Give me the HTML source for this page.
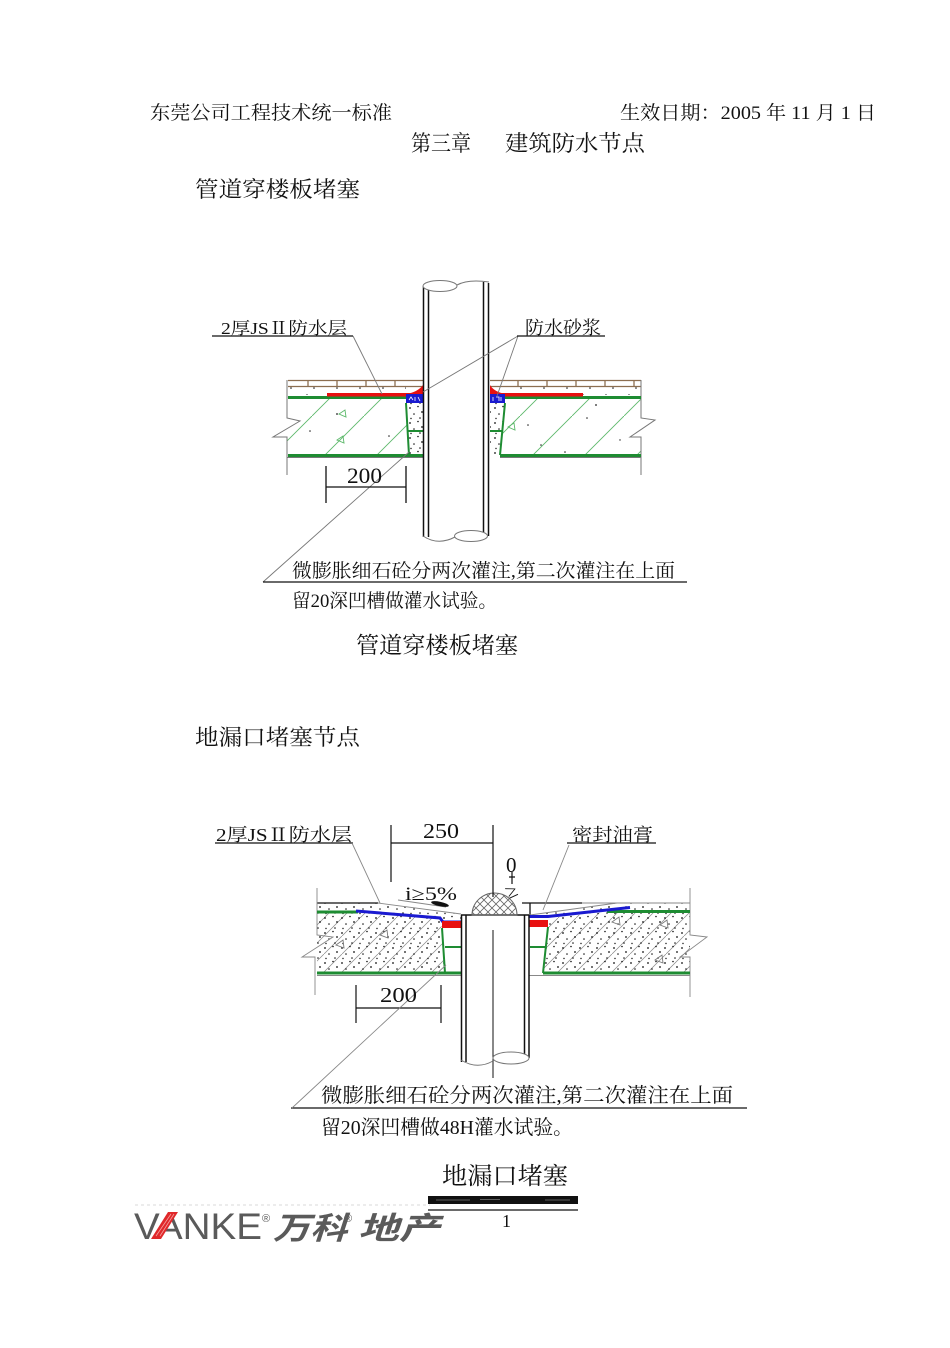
<!DOCTYPE html>
<html><head><meta charset="utf-8">
<style>
html,body{margin:0;padding:0;background:#fff;}
svg{display:block;}
.t{font-family:"Liberation Serif","Noto Serif CJK SC","Noto Sans CJK SC",serif;fill:#111;}
</style></head><body>
<svg width="950" height="1348" viewBox="0 0 950 1348" xmlns="http://www.w3.org/2000/svg">
<defs>
 <pattern id="hg" width="52" height="52" patternUnits="userSpaceOnUse"><path d="M-2,54 L54,-2" stroke="#5cb86a" stroke-width="0.9"/></pattern>
 <pattern id="hk" width="18" height="18" patternUnits="userSpaceOnUse"><path d="M-2,20 L20,-2" stroke="#888" stroke-width="0.7"/></pattern>
 <pattern id="dd" width="17" height="15" patternUnits="userSpaceOnUse">
  <circle cx="2" cy="3" r="0.9" fill="#111"/><circle cx="10" cy="1.5" r="0.8" fill="#111"/>
  <circle cx="14" cy="7" r="0.9" fill="#111"/><circle cx="6" cy="9" r="0.8" fill="#111"/>
  <circle cx="12" cy="13" r="0.8" fill="#111"/><circle cx="3" cy="13.5" r="0.7" fill="#111"/>
 </pattern>
 <pattern id="ds" width="23" height="19" patternUnits="userSpaceOnUse">
  <circle cx="4" cy="4" r="0.9" fill="#111"/><circle cx="15" cy="8" r="0.8" fill="#111"/>
  <circle cx="8" cy="15" r="0.8" fill="#111"/><circle cx="20" cy="16" r="0.6" fill="#111"/>
 </pattern>
 <pattern id="xc" width="8" height="8" patternUnits="userSpaceOnUse">
  <path d="M0,0 L8,8 M8,0 L0,8" stroke="#666" stroke-width="0.8"/>
 </pattern>
</defs>
<rect width="950" height="1348" fill="#fff"/>

<!-- Header -->
<text class="t" x="150" y="119" font-size="19" textLength="242" lengthAdjust="spacingAndGlyphs">东莞公司工程技术统一标准</text>
<text class="t" x="620" y="119" font-size="19" textLength="256" lengthAdjust="spacingAndGlyphs">生效日期：2005 年 11 月 1 日</text>
<text class="t" x="411" y="151" font-size="22" textLength="60" lengthAdjust="spacingAndGlyphs">第三章</text>
<text class="t" x="505" y="151" font-size="22" textLength="140" lengthAdjust="spacingAndGlyphs">建筑防水节点</text>
<text class="t" x="195" y="197" font-size="22" textLength="165" lengthAdjust="spacingAndGlyphs">管道穿楼板堵塞</text>

<!-- ============ Diagram 1 ============ -->
<!-- slab fills -->
<polygon points="287,399 406,399 406,403 408,455 287,455" fill="url(#hg)"/>
<polygon points="505,399 641,399 641,455 500,455 505,403" fill="url(#hg)"/>
<polygon points="406,403 423,403 423,455 408,455" fill="url(#dd)"/>
<polygon points="490,403 505,403 500,455 490,455" fill="url(#dd)"/>
<!-- mortar -->
<rect x="288" y="387" width="118" height="8" fill="url(#ds)"/>
<rect x="505" y="387" width="135" height="8" fill="url(#ds)"/>
<!-- sparse dots / triangles -->
<g fill="#222">
<circle cx="337" cy="414" r="0.9"/><circle cx="389" cy="436" r="0.8"/><circle cx="310" cy="431" r="0.8"/>
<circle cx="596" cy="405" r="0.9"/><circle cx="587" cy="418" r="0.8"/><circle cx="541" cy="445" r="0.8"/>
<circle cx="565" cy="452" r="0.8"/><circle cx="528" cy="425" r="0.8"/><circle cx="620" cy="440" r="0.7"/>
</g>
<g fill="none" stroke="#5cb86a" stroke-width="0.9">
<path d="M339,414 l6,-4 l1,7 z"/><path d="M337,440 l6,-4 l1,7 z"/><path d="M508,427 l6,-4 l1,7 z"/>
</g>
<!-- tiles -->
<g stroke="#8c6e50" stroke-width="1.3" fill="none">
<path d="M288,380.5 H423 M288,386.5 H423 M490,380.5 H641 M490,386.5 H641"/>
<path d="M308,380 V387 M337,380 V387 M366,380 V387 M395,380 V387"/>
<path d="M518,380 V387 M547,380 V387 M576,380 V387 M605,380 V387 M634,380 V387"/>
</g>
<!-- edges and breaks -->
<g stroke="#777" stroke-width="1" fill="none">
<path d="M287,380 V418 L300,421 L273,437 H287 V475"/>
<path d="M641,380 V418 L655,420 L630,437 H641 V475"/>
<path d="M287,457.5 H423 M500,457.5 H641"/>
</g>
<!-- green lines -->
<g stroke="#1e8c32" stroke-width="3" fill="none">
<path d="M288,397.5 H406 M505,397.5 H641"/>
<path d="M288,455.5 H423 M500,455.5 H641"/>
</g>
<g stroke="#1e8c32" stroke-width="2" fill="none">
<path d="M406,403 L409,455 M408,431 H423"/>
<path d="M505,403 L500,455 M490,431 H503"/>
</g>
<!-- red waterproof -->
<rect x="327" y="393" width="93" height="3.5" fill="#e81010"/>
<rect x="490" y="393" width="93" height="3.5" fill="#e81010"/>
<path d="M406,394 Q418,392 423,385 L423,395 Z" fill="#e81010"/>
<path d="M490,385 Q494,392 506,394 L490,395 Z" fill="#e81010"/>
<!-- blue mortar -->
<rect x="406" y="394" width="17" height="9" fill="#1a1ad0"/>
<rect x="490" y="394" width="15" height="9" fill="#1a1ad0"/>
<g stroke="#fff" stroke-width="0.8" fill="none">
<path d="M409,400 l2,-3 l2,3 M415,397 v4 M418,397 l2,4"/>
<path d="M493,397 v4 M496,397 h3 v4 M501,397 v4"/>
</g>
<!-- pipe 1 -->
<g stroke="#111" stroke-width="1.5" fill="none">
<path d="M423.5,286 V537 M428.5,290 V537 M483.5,282 V536 M488.5,283 V536"/>
</g>
<g stroke="#777" stroke-width="1" fill="#fff">
<ellipse cx="440" cy="286" rx="17" ry="5.5"/>
<ellipse cx="471" cy="536" rx="16.5" ry="5.5"/>
</g>
<g stroke="#777" stroke-width="1" fill="none">
<path d="M457,285 Q468,279 489,282"/>
<path d="M423,536 Q438,546 455,537"/>
</g>
<!-- leaders -->
<g stroke="#777" stroke-width="0.9" fill="none">
<path d="M353,336 L382,394"/>
<path d="M518,336 L423,392 M518,336 L497,396"/>
<path d="M263,582 L409,452"/>
</g>
<g stroke="#111" stroke-width="1.3" fill="none">
<path d="M212,336 H353 M517,336 H605 M263,582 H687"/>
<path d="M326,487 H406 M326,466 V503 M406,466 V503"/>
</g>
<text class="t" x="221" y="334" font-size="17" textLength="126" lengthAdjust="spacingAndGlyphs">2厚JSⅡ防水层</text>
<text class="t" x="525" y="334" font-size="18" textLength="76" lengthAdjust="spacingAndGlyphs">防水砂浆</text>
<text class="t" x="347" y="483" font-size="22" textLength="35" lengthAdjust="spacingAndGlyphs">200</text>
<text class="t" x="292" y="577" font-size="19" textLength="383" lengthAdjust="spacingAndGlyphs">微膨胀细石砼分两次灌注,第二次灌注在上面</text>
<text class="t" x="292" y="607" font-size="19" textLength="205" lengthAdjust="spacingAndGlyphs">留20深凹槽做灌水试验。</text>
<text class="t" x="356" y="653" font-size="23" textLength="162" lengthAdjust="spacingAndGlyphs">管道穿楼板堵塞</text>

<text class="t" x="195" y="745" font-size="22" textLength="165" lengthAdjust="spacingAndGlyphs">地漏口堵塞节点</text>

<!-- ============ Diagram 2 ============ -->
<!-- slab fills -->
<polygon points="317,912 356,912 440,919 442,928 445,973 317,973" fill="url(#hk)"/>
<polygon points="317,912 356,912 440,919 442,928 445,973 317,973" fill="url(#dd)"/>
<polygon points="548,918 607,912 690,912 690,973 543,973 548,927" fill="url(#hk)"/>
<polygon points="548,918 607,912 690,912 690,973 543,973 548,927" fill="url(#dd)"/>
<!-- screed -->
<polygon points="317,903 378,903 461,914 461,922 443,922 440,918 356,911 317,911" fill="url(#dd)"/>
<polygon points="530,915 617,903 690,903 690,911 607,910 548,916 530,916" fill="url(#dd)"/>
<g fill="none" stroke="#777" stroke-width="0.9">
<path d="M336,945 l7,-5 l1,8 z"/><path d="M380,935 l7,-5 l1,8 z"/><path d="M612,922 l7,-5 l1,8 z"/><path d="M660,925 l7,-5 l1,8 z"/><path d="M655,960 l7,-5 l1,8 z"/>
</g>
<!-- surfaces -->
<g stroke="#111" stroke-width="1.3" fill="none">
<path d="M317,903 H378 M522,903 H582 M530,903 V915"/>
</g>
<g stroke="#888" stroke-width="0.9" fill="none">
<path d="M378,903 L461,914 M530,915 L617,903 M582,903 H690"/>
<path d="M317,888 V935 L333,937 L302,957 H315 V995"/>
<path d="M690,888 V935 L707,937 L680,957 H690 V997"/>
<path d="M317,975.5 H461 M529,975.5 H690"/>
</g>
<!-- green -->
<g stroke="#1e8c32" stroke-width="3" fill="none">
<path d="M317,912 H358 M607,911.5 H690"/>
<path d="M317,973 H461 M543,973 H690"/>
</g>
<g stroke="#1e8c32" stroke-width="2" fill="none">
<path d="M442,928 L445,973 M445,947 H461"/>
<path d="M548,927 L543,973 M530,947 H545"/>
</g>
<!-- blue and red -->
<path d="M356,911 L440,918 L443,922 H461" stroke="#1a1ad0" stroke-width="3" fill="none"/>
<path d="M529,916.5 H548 L607,910 L630,907.5" stroke="#1a1ad0" stroke-width="3" fill="none"/>
<rect x="442" y="921" width="19" height="7" fill="#e81010"/>
<rect x="529" y="920" width="19" height="7" fill="#e81010"/>
<!-- pipe 2 -->
<g stroke="#111" stroke-width="1.5" fill="none">
<path d="M461.5,915 V1062 M466,915 V1062 M524.5,915 V1058 M529,915 V1058 M461,915 H529"/>
</g>
<path d="M493,930 V1078" stroke="#111" stroke-width="1" fill="none"/>
<g stroke="#777" stroke-width="1" fill="#fff">
<ellipse cx="511" cy="1058" rx="18" ry="6"/>
</g>
<path d="M461,1060 Q477,1070 493,1061" stroke="#777" stroke-width="1" fill="none"/>
<!-- dome -->
<path d="M472,915 A22.5,22 0 0 1 517,915 Z" fill="url(#xc)" stroke="#666" stroke-width="1"/>
<!-- dims -->
<g stroke="#111" stroke-width="1.2" fill="none">
<path d="M215,843 H353 M567,843 H656 M391,843 H493 M391,825 V882 M493,825 V897"/>
<path d="M356,1008 H441 M356,985 V1023 M441,985 V1023"/>
<path d="M291,1108 H747"/>
</g>
<g stroke="#888" stroke-width="0.9" fill="none">
<path d="M352,843 L380,903 M569,845 L543,910 M292,1108 L446,965"/>
<path d="M398,900 L446,907"/>
</g>
<ellipse cx="440" cy="904" rx="9" ry="2.2" transform="rotate(12 440 904)" fill="#111"/>
<text class="t" x="216" y="841" font-size="18" textLength="136" lengthAdjust="spacingAndGlyphs">2厚JSⅡ防水层</text>
<text class="t" x="423" y="838" font-size="21" textLength="36" lengthAdjust="spacingAndGlyphs">250</text>
<text class="t" x="572" y="841" font-size="18" textLength="81" lengthAdjust="spacingAndGlyphs">密封油膏</text>
<text class="t" x="405" y="900" font-size="19" textLength="52" lengthAdjust="spacingAndGlyphs">i≥5%</text>
<text class="t" x="506" y="872" font-size="21">0</text>
<path d="M512,872 V884 M509,877 h6" stroke="#111" stroke-width="1.2" fill="none"/>
<text class="t" x="0" y="0" font-size="20" transform="translate(509,899) rotate(-25)">≥</text>
<text class="t" x="380" y="1002" font-size="21" textLength="37" lengthAdjust="spacingAndGlyphs">200</text>
<text class="t" x="321" y="1102" font-size="20" textLength="412" lengthAdjust="spacingAndGlyphs">微膨胀细石砼分两次灌注,第二次灌注在上面</text>
<text class="t" x="321" y="1134" font-size="20" textLength="252" lengthAdjust="spacingAndGlyphs">留20深凹槽做48H灌水试验。</text>
<text class="t" x="442" y="1184" font-size="24" textLength="126" lengthAdjust="spacingAndGlyphs">地漏口堵塞</text>

<!-- footer bar -->
<rect x="428" y="1196" width="150" height="8" fill="#111"/>
<path d="M436,1200 H470 M480,1199.5 H500 M545,1200 H570" stroke="#777" stroke-width="0.8"/>
<path d="M428,1210 H578" stroke="#111" stroke-width="1.2"/>
<text class="t" x="502" y="1227" font-size="18">1</text>

<!-- logo -->
<path d="M135,1205 H430" stroke="#ccc" stroke-width="0.8" stroke-dasharray="3,3"/>
<text x="134" y="1239" font-family="Liberation Sans, sans-serif" font-size="37" fill="#5a5a5a" textLength="128" lengthAdjust="spacingAndGlyphs">VANKE</text>
<polygon points="151,1239 161,1239 178,1212 168,1212" fill="#e0282a"/>
<path d="M156,1236 L171,1214 M160,1236 L174,1214" stroke="#f4a0a0" stroke-width="0.8"/>
<text x="262" y="1222" font-family="Liberation Sans, sans-serif" font-size="11" fill="#5a5a5a">®</text>
<text x="0" y="0" font-family="Noto Sans CJK SC, sans-serif" font-weight="bold" font-size="31" fill="#5a5a5a" textLength="74" lengthAdjust="spacingAndGlyphs" transform="translate(273,1239) skewX(-18)">万科</text>
<text x="344" y="1222" font-family="Liberation Sans, sans-serif" font-size="11" fill="#5a5a5a">®</text>
<text x="0" y="0" font-family="Noto Sans CJK SC, sans-serif" font-weight="bold" font-size="31" fill="#5a5a5a" textLength="82" lengthAdjust="spacingAndGlyphs" transform="translate(358,1239) skewX(-18)">地产</text>
</svg>
</body></html>
